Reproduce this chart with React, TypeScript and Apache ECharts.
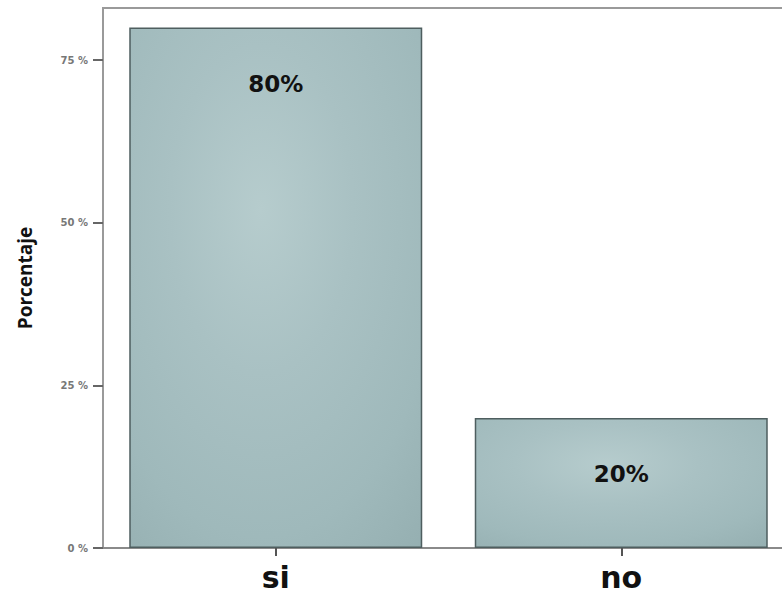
import React, { useEffect, useRef } from "react";
import * as echarts from "echarts";

const categories = ["si", "no"];
const values = [80, 20];
const yTicks = [0, 25, 50, 75];

export default function App() {
  const ref = useRef<HTMLDivElement>(null);
  useEffect(() => {
    document.body.style.margin = "0";
    const chart = echarts.init(ref.current!, null, { renderer: "svg" });
    const fill = new echarts.graphic.RadialGradient(0.45, 0.35, 0.9, [
      { offset: 0, color: "#b6cccd" },
      { offset: 0.35, color: "#a9c1c3" },
      { offset: 0.7, color: "#9fb9bb" },
      { offset: 1, color: "#93adaf" },
    ]);
    chart.setOption({
      animation: false,
      backgroundColor: "#ffffff",
      grid: {
        left: 103,
        top: 8,
        width: 691,
        height: 540,
        show: true,
        borderColor: "#9a9a9a",
        borderWidth: 2,
      },
      xAxis: {
        type: "category",
        data: categories,
        axisLine: { show: true, lineStyle: { color: "#8a8a8a", width: 2 } },
        axisTick: { show: true, alignWithLabel: true, length: 8, lineStyle: { color: "#555", width: 2 } },
        axisLabel: {
          color: "#111",
          fontFamily: "DejaVu Sans",
          fontWeight: "bold",
          fontSize: 30,
          margin: 14,
        },
      },
      yAxis: {
        type: "value",
        min: 0,
        max: 83,
        name: "Porcentaje",
        nameLocation: "middle",
        nameGap: 69,
        nameRotate: 90,
        nameTextStyle: { color: "#111", fontFamily: "Open Sans", fontWeight: "bold", fontSize: 19 },
        splitLine: { show: false },
        axisLine: { show: true, lineStyle: { color: "#9a9a9a", width: 2 } },
        axisTick: { show: true, customValues: yTicks, length: 10, lineStyle: { color: "#666", width: 2 } },
        axisLabel: {
          customValues: yTicks,
          formatter: (v: number) => `${v} %`,
          color: "#777",
          fontFamily: "DejaVu Sans",
          fontWeight: "bold",
          fontSize: 10,
          margin: 15,
        },
      },
      series: [
        {
          type: "bar",
          data: values,
          barWidth: 293,
          itemStyle: { color: fill, borderColor: "#4e5e5f", borderWidth: 1.5 },
          label: {
            show: true,
            position: "insideTop",
            distance: 45,
            formatter: (p: any) => `${p.value}%`,
            color: "#111",
            fontFamily: "DejaVu Sans",
            fontWeight: "bold",
            fontSize: 23,
          },
        },
      ],
    });
    return () => chart.dispose();
  }, []);
  return (
    <div style={{ width: 782, height: 596, overflow: "hidden", position: "relative" }}>
      <div ref={ref} style={{ width: 820, height: 596 }} />
    </div>
  );
}
